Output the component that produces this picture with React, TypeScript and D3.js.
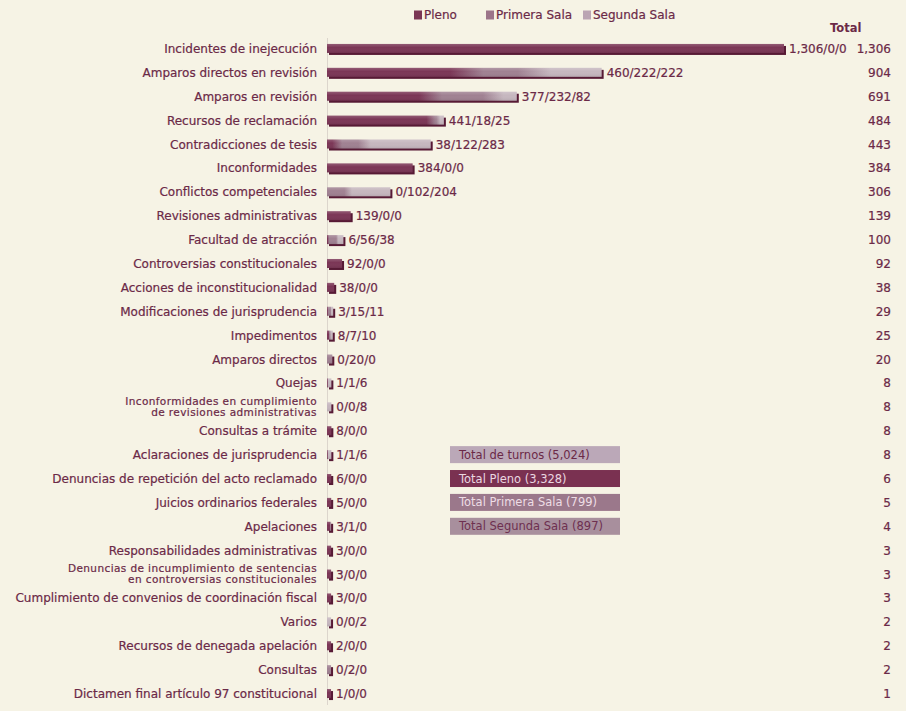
import React from "react";
import * as d3 from "d3";

const categories: string[] = [
  "Incidentes de inejecución",
  "Amparos directos en revisión",
  "Amparos en revisión",
  "Recursos de reclamación",
  "Contradicciones de tesis",
  "Inconformidades",
  "Conflictos competenciales",
  "Revisiones administrativas",
  "Facultad de atracción",
  "Controversias constitucionales",
  "Acciones de inconstitucionalidad",
  "Modificaciones de jurisprudencia",
  "Impedimentos",
  "Amparos  directos",
  "Quejas",
  "Inconformidades en cumplimiento\nde revisiones administrativas",
  "Consultas  a trámite",
  "Aclaraciones de jurisprudencia",
  "Denuncias de repetición del acto reclamado",
  "Juicios ordinarios  federales",
  "Apelaciones",
  "Responsabilidades administrativas",
  "Denuncias de incumplimiento de sentencias\nen controversias constitucionales",
  "Cumplimiento de convenios de coordinación fiscal",
  "Varios",
  "Recursos de denegada apelación",
  "Consultas",
  "Dictamen final artículo 97 constitucional",
];

const pleno: number[] = [1306, 460, 377, 441, 38, 384, 0, 139, 6, 92, 38, 3, 8, 0, 1, 0, 8, 1, 6, 5, 3, 3, 3, 3, 0, 2, 0, 1];
const primeraSala: number[] = [0, 222, 232, 18, 122, 0, 102, 0, 56, 0, 0, 15, 7, 20, 1, 0, 0, 1, 0, 0, 1, 0, 0, 0, 0, 0, 2, 0];
const segundaSala: number[] = [0, 222, 82, 25, 283, 0, 204, 0, 38, 0, 0, 11, 10, 0, 6, 8, 0, 6, 0, 0, 0, 0, 0, 0, 2, 0, 0, 0];

const seriesNames: string[] = ["Pleno", "Primera Sala", "Segunda Sala"];

const W = 906;
const H = 711;
const BG = "#f6f3e5";
const TEXT = "#6b2947";
const COLORS = ["#7b3656", "#a08192", "#c6b7bf"];
const LEGEND_COLORS = ["#7a3553", "#9c7489", "#bba5b3"];
const SHADOW = "#571a35";
const FONT = "'DejaVu Sans', Verdana, sans-serif";

const fmt = d3.format(",");

export default function App() {
  const totals = categories.map((_, i) => pleno[i] + primeraSala[i] + segundaSala[i]);
  const maxTotal = d3.max(totals) as number;
  const sumPleno = d3.sum(pleno);
  const sumPrimera = d3.sum(primeraSala);
  const sumSegunda = d3.sum(segundaSala);
  const sumAll = sumPleno + sumPrimera + sumSegunda;

  const y = d3.scaleBand<string>().domain(categories).range([36.5, 705.5]).padding(0);
  const x0 = 327;
  const w = d3.scalePow().exponent(1.4).domain([0, maxTotal]).range([4, 457]);

  const barH = 9;

  const summary = [
    { label: `Total de turnos (${fmt(sumAll)})`, fill: "#bba8b8", color: "#6b2947", row: 17 },
    { label: `Total Pleno (${fmt(sumPleno)})`, fill: "#7a3151", color: "#ead7e0", row: 18 },
    { label: `Total Primera Sala (${fmt(sumPrimera)})`, fill: "#9b788b", color: "#eedde5", row: 19 },
    { label: `Total Segunda Sala (${fmt(sumSegunda)})`, fill: "#a88f9d", color: "#6e3050", row: 20 },
  ];

  const legendX = [414, 486, 583];
  const textStyle = { stroke: TEXT, strokeWidth: 0.2 };

  return (
    <svg
      width={W}
      height={H}
      style={{ position: "absolute", left: 0, top: 0, fontFamily: FONT }}
    >
      <defs>
        {categories.map((c, i) => {
          const t = totals[i];
          const parts = [pleno[i], primeraSala[i], segundaSala[i]];
          const stops: { o: number; c: string }[] = [];
          let acc = 0;
          parts.forEach((p, k) => {
            if (p <= 0) return;
            const a = acc / t;
            const b = (acc + p) / t;
            const d = Math.min(0.06, (b - a) / 2.5);
            stops.push({ o: a + (a > 0 ? d : 0), c: COLORS[k] });
            stops.push({ o: b - (b < 1 ? d : 0), c: COLORS[k] });
            acc += p;
          });
          return (
            <linearGradient key={c} id={`g${i}`} x1="0" x2="1" y1="0" y2="0">
              {stops.map((s, j) => (
                <stop key={j} offset={s.o} stopColor={s.c} />
              ))}
            </linearGradient>
          );
        })}
        <linearGradient id="shine" x1="0" x2="0" y1="0" y2="1">
          <stop offset="0" stopColor="#ffffff" stopOpacity={0.18} />
          <stop offset="0.4" stopColor="#ffffff" stopOpacity={0.0} />
          <stop offset="1" stopColor="#000000" stopOpacity={0.08} />
        </linearGradient>
      </defs>
      <rect x={0} y={0} width={W} height={H} fill={BG} />

      {/* legend */}
      {seriesNames.map((s, k) => (
        <g key={s} transform={`translate(${legendX[k]},15)`}>
          <rect x={0} y={-4.5} width={8} height={9} fill={LEGEND_COLORS[k]} />
          <text x={10} y={4} fontSize={12} fill={TEXT} {...textStyle}>
            {s}
          </text>
        </g>
      ))}

      <text x={830} y={32} fontSize={11.5} fontWeight="bold" fill={TEXT}>
        Total
      </text>

      {/* axis line */}
      <line x1={x0 + 0.5} x2={x0 + 0.5} y1={38} y2={705} stroke="#dcd5cc" strokeWidth={1} />

      {categories.map((c, i) => {
        const cy = (y(c) as number) + y.bandwidth() / 2;
        const bw = w(totals[i]);
        const lines = c.split("\n");
        const label = `${fmt(pleno[i])}/${fmt(primeraSala[i])}/${fmt(segundaSala[i])}`;
        return (
          <g key={c}>
            {lines.length === 1 ? (
              <text x={317} y={cy + 4.5} fontSize={12} textAnchor="end" fill={TEXT} {...textStyle}>
                {c}
              </text>
            ) : (
              lines.map((ln, j) => (
                <text
                  key={j}
                  x={317}
                  y={cy - 2 + j * 11}
                  fontSize={10.5}
                  letterSpacing={0.4}
                  textAnchor="end"
                  fill={TEXT}
                  {...textStyle}
                >
                  {ln}
                </text>
              ))
            )}
            <rect x={x0 + 2} y={cy - barH / 2 + 2} width={bw} height={barH} fill={SHADOW} />
            <rect x={x0} y={cy - barH / 2} width={bw} height={barH} fill={`url(#g${i})`} />
            <rect x={x0} y={cy - barH / 2} width={bw} height={barH} fill="url(#shine)" />
            <text x={x0 + bw + 5} y={cy + 4.5} fontSize={12} fill={TEXT} {...textStyle}>
              {label}
            </text>
            <text x={891} y={cy + 4.5} fontSize={12} textAnchor="end" fill={TEXT} {...textStyle}>
              {fmt(totals[i])}
            </text>
          </g>
        );
      })}

      {/* summary boxes */}
      {summary.map((s) => {
        const cy = (y(categories[s.row]) as number) + y.bandwidth() / 2;
        return (
          <g key={s.label}>
            <rect x={450} y={cy - 8.5} width={170} height={17} fill={s.fill} />
            <text x={459} y={cy + 4} fontSize={11.5} fill={s.color}>
              {s.label}
            </text>
          </g>
        );
      })}
    </svg>
  );
}
